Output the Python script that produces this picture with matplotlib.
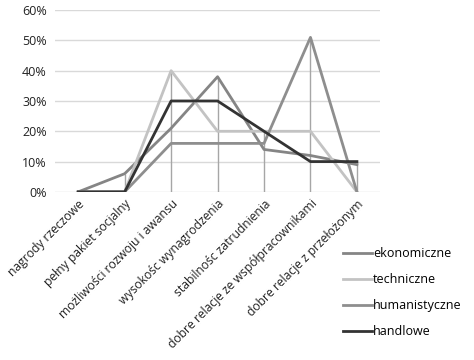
import numpy as np
import matplotlib
matplotlib.use('Agg')
import matplotlib.pyplot as plt

categories = ['nagrody rzeczowe', 'pełny pakiet socjalny', 'możliwości rozwoju i awansu',
              'wysokośc wynagrodzenia', 'stabilnośc zatrudnienia',
              'dobre relacje ze współpracownikami', 'dobre relacje z przełożonym']
ekonomiczne = [0, 6, 21, 38, 14, 12, 9]
techniczne = [0, 0, 40, 20, 20, 20, 0]
humanistyczne = [0, 0, 16, 16, 16, 51, 0]
handlowe = [0, 0, 30, 30, 20, 10, 10]

series = [('ekonomiczne', ekonomiczne, '#858585'),
          ('techniczne', techniczne, '#c3c3c3'),
          ('humanistyczne', humanistyczne, '#8e8e8e'),
          ('handlowe', handlowe, '#333333')]

plt.rcParams['font.family'] = ['Open Sans', 'DejaVu Sans']

fig = plt.figure(figsize=(4.74, 3.6), dpi=100)
ax = fig.add_axes([0.116, 0.467, 0.686, 0.505])

x = np.arange(len(categories))

# drop lines from the highest value down to zero
tops = np.max([s[1] for s in series], axis=0)
ax.vlines(x, 0, tops, color='#a6a6a6', lw=1, zorder=2)

for name, vals, col in series:
    ax.plot(x, vals, color=col, lw=2, label=name, zorder=3)

ax.set_xlim(-0.5, 6.5)
ax.set_ylim(0, 60)
ax.set_yticks(range(0, 61, 10))
ax.set_yticklabels([f'{v}%' for v in range(0, 61, 10)], fontsize=9, color='#222222')
ax.yaxis.grid(True, color='#d9d9d9', lw=1)
ax.set_axisbelow(True)
for sp in ax.spines.values():
    sp.set_visible(False)
ax.tick_params(length=0, pad=6)

ax.set_xticks(x)
ax.set_xticklabels(categories, rotation=45, ha='right', rotation_mode='anchor',
                   fontsize=8.7, color='#222222')
ax.tick_params(axis='x', pad=4)

fig.legend(loc='upper left', bbox_to_anchor=(0.70, 0.345), frameon=False,
           fontsize=9, handlelength=2.3, handletextpad=0.1, labelspacing=1.05)

fig.savefig('out.png', dpi=100)
